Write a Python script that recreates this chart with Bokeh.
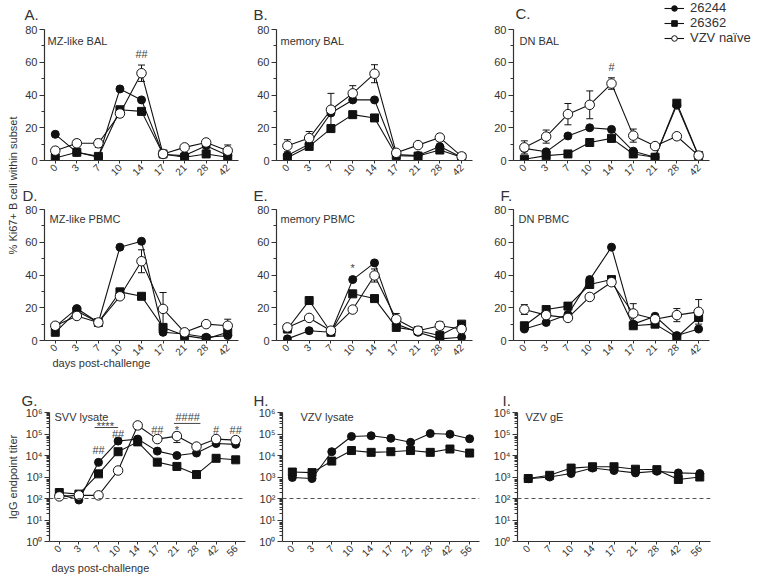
import math
from bokeh.plotting import figure
from bokeh.models import (Range1d, FixedTicker, SingleIntervalTicker, Whisker, TeeHead,
                          Label, Span, Legend, LegendItem, ColumnDataSource, Title)
from bokeh.core.properties import value
from bokeh.layouts import row, column
from bokeh.embed import file_html
from bokeh.resources import INLINE

FONT = "Liberation Sans"
INK = "#111111"
AX = "#333333"
TXT = "#333333"

# ---------------- data ----------------
days_ki67 = ["0", "3", "7", "10", "14", "17", "21", "28", "42"]
days_svv = ["0", "3", "7", "10", "14", "17", "21", "28", "42", "56"]
days_vzv = ["0", "3", "7", "10", "14", "17", "21", "28", "42", "56"]
days_ge = ["0", "7", "10", "14", "17", "21", "28", "42", "56"]

series_names = ["26244", "26362", "VZV naïve"]

a_26244 = [16, 5, 2, 43.7, 37, 3.7, 3, 9, 3]
a_26362 = [1.5, 5, 2.5, 31, 30, 4, 2, 4, 2]
a_naive = [6, 10.5, 10.5, 28.7, 53.3, 4, 8, 11, 6]
a_naive_sem = [2, 2, 2.5, 2, 5, 0, 0, 0, 3.5]

b_26244 = [3, 10, 29, 37, 37, 3.7, 3, 8.5, 2]
b_26362 = [1.7, 8.6, 19.5, 28, 26, 3, 2.7, 6.4, 2]
b_naive = [9, 13.7, 31, 41, 53, 4.7, 9.4, 14, 2.5]
b_naive_sem = [3.7, 4, 10, 4.7, 5.5, 0, 0, 2, 0]

c_26244 = [7.4, 5.3, 15, 20, 19, 5.7, 2, 33.8, 2.5]
c_26362 = [0.8, 3, 4, 11, 13.5, 4, 2, 35, 3]
c_naive = [8, 14.6, 28.3, 34, 47, 15.2, 8.8, 14.8, 3]
c_naive_sem = [4, 4, 6.5, 8.5, 3.5, 4, 0, 0, 0]

d_26244 = [8.5, 19.5, 11, 57, 60.6, 5, 4, 2, 3]
d_26362 = [5, 18, 11, 29.7, 27, 8, 3, 1, 5]
d_naive = [9, 15, 11, 27, 48.4, 19.3, 5, 10, 9]
d_naive_sem = [1.5, 1.5, 1, 1.5, 7, 10, 1, 1, 4]

e_26244 = [1, 6, 5, 37.2, 47.4, 10, 5, 1, 2]
e_26362 = [7, 24.4, 5, 28.5, 25.6, 8, 6, 3, 10]
e_naive = [8, 13.8, 6, 18.9, 39.7, 13, 6, 9, 7]
e_naive_sem = [1, 1, 1, 1, 4, 3.5, 1, 2.5, 3]

f_26244 = [7, 11, 15.9, 37.2, 57, 10, 14.8, 3, 7]
f_26362 = [9, 18.9, 21, 34.2, 37.2, 9, 10, 2, 14]
f_naive = [18.9, 15.5, 13.8, 26.6, 35.6, 16.5, 13, 15.5, 17.5]
f_naive_sem = [3, 1.5, 1, 1.5, 1, 6, 1, 4, 7.5]

g_26244 = [160, 85, 4800, 47000, 58000, 16000, 10000, 13000, 36000, 33000]
g_26362 = [190, 160, 1400, 15000, 43000, 4900, 3100, 1300, 7400, 6300]
g_naive = [125, 140, 140, 2000, 250000, 58000, 80000, 26000, 58000, 52000]
g_naive_sem = [0, 0, 0, 0, 80000, 0, 40000, 0, 0, 0]

h_26244 = [950, 850, 15000, 77000, 83000, 63000, 41000, 105000, 98000, 60000]
h_26362 = [1700, 1600, 5500, 17000, 14000, 15000, 17000, 14000, 20000, 13000]

i_26244 = [830, 1000, 1450, 2600, 2000, 1550, 1850, 1550, 1450]
i_26362 = [850, 1200, 2600, 3000, 3000, 2300, 2200, 770, 1000]

# significance marks: (text, x position in category index, y value)
a_marks = [("##", 4, 65)]
c_marks = [("#", 4, 57)]
e_marks = [("*", 3, 44)]
g_marks = [("##", 2, 18000), ("****", 2.35, 240000), ("##", 3, 100000),
           ("##", 5, 150000), ("*", 6, 160000), ("####", 6.55, 600000),
           ("#", 8, 150000), ("##", 9, 160000)]
g_bars = [(1.8, 3.0, 200000), (5.85, 7.2, 310000)]

detection_limit = 100

SUP = {0: "\u2070", 1: "\u00b9", 2: "\u00b2", 3: "\u00b3", 4: "\u2074", 5: "\u2075", 6: "\u2076"}


def make_panel(w, h, lb, rb, tb, bb, cats, log=False, x_end=None, y_top=None):
    n = len(cats)
    if x_end is None:
        x_end = n - 0.5
    opts = dict(width=w, height=h, output_backend="svg", toolbar_location=None, tools="",
                min_border_left=lb, min_border_right=rb, min_border_top=tb,
                min_border_bottom=bb, x_range=Range1d(-0.5, x_end))
    if log:
        p = figure(y_axis_type="log", y_range=Range1d(1, 1e6), **opts)
    else:
        p = figure(y_range=Range1d(0, 80 if y_top is None else y_top), **opts)
    p.outline_line_color = None
    p.xgrid.visible = False
    p.ygrid.visible = False
    p.border_fill_color = "white"
    p.background_fill_color = "white"

    xa = p.xaxis[0]
    xa.ticker = FixedTicker(ticks=list(range(n)))
    xa.major_label_overrides = {i: c for i, c in enumerate(cats)}
    xa.major_label_orientation = math.pi / 4
    xa.major_label_standoff = 2
    xa.major_tick_out = 3
    xa.major_tick_in = 0
    xa.minor_tick_out = 0
    xa.minor_tick_in = 0
    xa.bounds = (-0.5, n - 0.5)
    xa.major_label_text_font_size = "10px"

    ya = p.yaxis[0]
    if log:
        ya.ticker = FixedTicker(ticks=[10 ** k for k in range(7)],
                                minor_ticks=[m * 10 ** k for k in range(6) for m in range(2, 10)])
        ya.major_label_overrides = {10 ** k: "10" + SUP[k] for k in range(7)}
        ya.bounds = (1, 1e6)
    else:
        ya.ticker = SingleIntervalTicker(interval=20, num_minor_ticks=2)
        ya.bounds = (0, 80)
    ya.major_tick_out = 5
    ya.major_tick_in = 0
    ya.minor_tick_out = 3
    ya.minor_tick_in = 0
    ya.major_label_standoff = 2
    ya.major_label_text_font_size = "11px"

    for ax in (xa, ya):
        ax.axis_line_color = AX
        ax.axis_line_width = 1.2
        ax.major_tick_line_color = AX
        ax.minor_tick_line_color = AX
        ax.major_label_text_font = FONT
        ax.major_label_text_color = TXT
    return p


def draw_series(p, cats, y, kind):
    x = list(range(len(cats)))
    ln = p.line(x, y, line_color=INK, line_width=1.1)
    if kind == 0:
        sc = p.scatter(x, y, marker="circle", size=8, fill_color=INK, line_color=INK)
    elif kind == 1:
        sc = p.scatter(x, y, marker="square", size=8, fill_color=INK, line_color=INK)
    else:
        sc = p.scatter(x, y, marker="circle", size=9.5, fill_color="white",
                       line_color=INK, line_width=1)
    return [ln, sc]


def add_err(p, cats, y, sem):
    xs, lo, hi = [], [], []
    for xi, yi, si in zip(range(len(cats)), y, sem):
        if si > 0:
            xs.append(xi)
            lo.append(yi - si)
            hi.append(yi + si)
    src = ColumnDataSource(dict(x=xs, lower=lo, upper=hi))
    wk = Whisker(source=src, base="x", lower="lower", upper="upper", dimension="height",
                 line_color=INK, line_width=1,
                 upper_head=TeeHead(size=7, line_color=INK, line_width=1),
                 lower_head=TeeHead(size=7, line_color=INK, line_width=1))
    p.add_layout(wk)


def add_marks(p, marks):
    p.text(x=[m[1] for m in marks], y=[m[2] for m in marks], text=[m[0] for m in marks],
           text_font=value(FONT), text_font_size="11px", text_align="center",
           text_baseline="middle", text_color="#444444")


def add_label(p, text, x, y, size="11px", align="left"):
    p.add_layout(Label(x=x, y=y, x_units="screen", y_units="screen", text=text,
                       text_font=FONT, text_font_size=size, text_color=TXT,
                       text_align=align, text_baseline="middle"))


def set_letter(p, letter, offset, standoff):
    t = p.title
    t.text = letter
    t.align = "left"
    t.offset = offset
    t.standoff = standoff
    t.vertical_align = "top"
    t.text_font = FONT
    t.text_font_size = "15px"
    t.text_font_style = "normal"
    t.text_color = TXT


def add_xtitle(p, text, offset, standoff):
    p.add_layout(Title(text=text, align="left", offset=offset, standoff=standoff,
                       vertical_align="top", text_font=FONT, text_font_size="11px",
                       text_font_style="normal", text_color=TXT), "below")


# ---------------- geometry ----------------
FH12, FH3 = 131, 129
TB1, BB1 = 29, 23
TB2, BB2 = 26, 50
TB3, BB3 = 22, 34
H1 = TB1 + FH12 + BB1      # 183
H2 = TB2 + FH12 + BB2      # 207
H3 = TB3 + FH3 + BB3       # 185
SPACING = 196 / 9.0

# ---------------- row 1 ----------------
pa = make_panel(230, H1, 20, 14, TB1, BB1, days_ki67)
pb = make_panel(238, H1, 24, 18, TB1, BB1, days_ki67)
# panel C: frame reaches the top and right edges so the legend can sit inside it
pc = make_panel(268, H1, 23, 0, 0, BB1, days_ki67,
                x_end=-0.5 + (268 - 23) / SPACING,
                y_top=80.0 * (TB1 + FH12) / FH12)
pc.title.text = ""
pc.title.text_font_size = "0px"
pc.title.standoff = 0
# ---------------- row 2 ----------------
pd = make_panel(230, H2, 20, 14, TB2, BB2, days_ki67)
pe = make_panel(238, H2, 24, 18, TB2, BB2, days_ki67)
pf = make_panel(268, H2, 23, 49, TB2, BB2, days_ki67)
# ---------------- row 3 ----------------
pg = make_panel(230, H3, 26, 7, TB3, BB3, days_svv, log=True)
ph = make_panel(238, H3, 30, 11, TB3, BB3, days_vzv, log=True)
pi = make_panel(268, H3, 25, 48, TB3, BB3, days_ge, log=True)

ki67_panels = [
    (pa, a_26244, a_26362, a_naive, a_naive_sem, "MZ-like BAL", 3),
    (pb, b_26244, b_26362, b_naive, b_naive_sem, "memory BAL", 4),
    (pc, c_26244, c_26362, c_naive, c_naive_sem, "DN BAL", 6),
    (pd, d_26244, d_26362, d_naive, d_naive_sem, "MZ-like PBMC", 5),
    (pe, e_26244, e_26362, e_naive, e_naive_sem, "memory PBMC", 4),
    (pf, f_26244, f_26362, f_naive, f_naive_sem, "DN PBMC", 5),
]

c_renderers = None
for idx, (p, s1, s2, s3, sem, sub, sx) in enumerate(ki67_panels):
    add_err(p, days_ki67, s3, sem)
    r1 = draw_series(p, days_ki67, s1, 0)
    r2 = draw_series(p, days_ki67, s2, 1)
    r3 = draw_series(p, days_ki67, s3, 2)
    if p is pc:
        c_renderers = [r1, r2, r3]
    add_label(p, sub, sx, FH12 - (11 if idx < 3 else 9), size="11px")

set_letter(pa, "A.", -20, 10)
set_letter(pb, "B.", -23, 10)
add_label(pc, "C.", 2, FH12 + 16, size="15px")
set_letter(pd, "D.", -22, 7)
set_letter(pe, "E.", -23, 7)
set_letter(pf, "F.", -13, 7)

add_marks(pa, a_marks)
add_marks(pc, c_marks)
add_marks(pe, e_marks)

legend = Legend(items=[LegendItem(label=value(n), renderers=r)
                       for n, r in zip(series_names, c_renderers)],
                location=(151, TB1 + FH12 - 45), orientation="vertical", padding=0,
                margin=0, spacing=0, glyph_width=20, glyph_height=14, label_height=14,
                label_standoff=6, label_text_font=FONT, label_text_font_size="13px",
                label_text_color=TXT, background_fill_alpha=0, border_line_alpha=0)
pc.add_layout(legend)

add_xtitle(pd, "days post-challenge", 8, -12)

# log panels
for p in (pg, ph, pi):
    p.add_layout(Span(location=detection_limit, dimension="width", line_color="#555555",
                      line_width=1, line_dash="4 3"))

draw_series(pg, days_svv, g_26244, 0)
draw_series(pg, days_svv, g_26362, 1)
add_err(pg, days_svv, g_naive, g_naive_sem)
draw_series(pg, days_svv, g_naive, 2)
add_marks(pg, g_marks)
pg.segment(x0=[b[0] for b in g_bars], x1=[b[1] for b in g_bars],
           y0=[b[2] for b in g_bars], y1=[b[2] for b in g_bars],
           line_color="#444444", line_width=1)

draw_series(ph, days_vzv, h_26244, 0)
draw_series(ph, days_vzv, h_26362, 1)
draw_series(pi, days_ge, i_26244, 0)
draw_series(pi, days_ge, i_26362, 1)

for p, letter, lx, sub, sx in ((pg, "G.", -28, "SVV lysate", 5),
                               (ph, "H.", -29, "VZV lysate", 18),
                               (pi, "I.", -15, "VZV gE", 8)):
    set_letter(p, letter, lx, 3)
    add_label(p, sub, sx, FH3 - 4, size="11px")

add_xtitle(pg, "days post-challenge", 2, -3)


# ---------------- y-title strips ----------------
def strip(h, text, center_from_top):
    s = figure(width=22, height=h, output_backend="svg", toolbar_location=None, tools="",
               min_border_left=0, min_border_right=0, min_border_top=0, min_border_bottom=0,
               x_axis_location=None, y_axis_location=None,
               x_range=Range1d(0, 22), y_range=Range1d(0, h))
    s.outline_line_color = None
    s.xgrid.visible = False
    s.ygrid.visible = False
    s.border_fill_color = "white"
    s.text(x=[12], y=[h - center_from_top], text=[text], angle=math.pi / 2,
           text_font=value(FONT), text_font_size="11px", text_color=TXT,
           text_align="center", text_baseline="middle")
    return s


s_top = strip(H1 + H2, "% Ki67+ B cell within subset", 185)
s_bot = strip(H3, "IgG endpoint titer", TB3 + FH3 / 2.0)

# panel C is wrapped on its own so that its frame is not aligned with A and B
layout = row(column(s_top, s_bot),
             column(row(pa, pb, column(pc)), row(pd, pe, pf), row(pg, ph, pi)))

open("out.html", "w").write(file_html(layout, INLINE, title="Ki67 and IgG"))
